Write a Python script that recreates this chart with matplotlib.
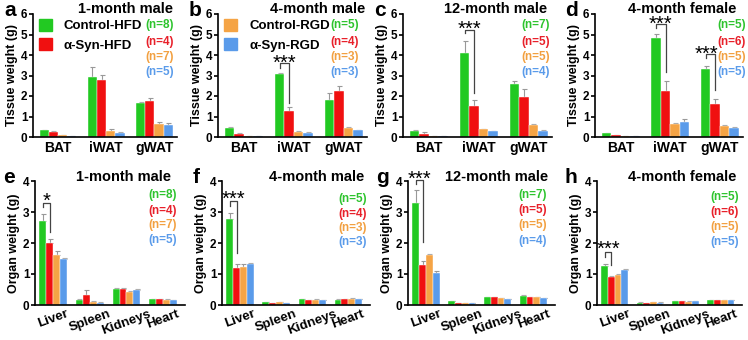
import numpy as np
import matplotlib
matplotlib.use('Agg')
import matplotlib.pyplot as plt
from matplotlib.patches import Patch
from matplotlib.transforms import offset_copy, ScaledTranslation

plt.rcParams['font.family'] = ['Liberation Sans', 'DejaVu Sans']
plt.rcParams['font.weight'] = 'bold'

colors = ['#22c922', '#f01010', '#f5a445', '#5a9bea']
ncolors = ['#2ec42e', '#e8202a', '#f2a040', '#5a9bea']
legend_names = ['Control-HFD', u'\u03b1-Syn-HFD', 'Control-RGD', u'\u03b1-Syn-RGD']

fat_groups = ['BAT', 'iWAT', 'gWAT']
organ_groups = ['Liver', 'Spleen', 'Kidneys', 'Heart']

titles = ['1-month male', '4-month male', '12-month male', '4-month female']
letters_top = ['a', 'b', 'c', 'd']
letters_bot = ['e', 'f', 'g', 'h']
n_counts = [[8, 4, 7, 5], [5, 4, 3, 3], [7, 5, 5, 4], [5, 6, 5, 5]]

# tissue weights: [series][group]
fat_mean = [
    [[0.33, 2.95, 1.65], [0.26, 2.80, 1.75], [0.08, 0.28, 0.65], [0.05, 0.20, 0.57]],
    [[0.42, 3.07, 1.82], [0.17, 1.25, 2.25], [0.05, 0.25, 0.45], [0.04, 0.20, 0.33]],
    [[0.30, 4.12, 2.60], [0.17, 1.50, 1.93], [0.06, 0.37, 0.58], [0.04, 0.28, 0.30]],
    [[0.18, 4.83, 3.32], [0.08, 2.22, 1.63], [0.05, 0.63, 0.55], [0.05, 0.75, 0.43]],
]
fat_err = [
    [[0.03, 0.45, 0.07], [0.02, 0.22, 0.15], [0.03, 0.10, 0.10], [0.01, 0.05, 0.13]],
    [[0.07, 0.07, 0.35], [0.03, 0.22, 0.25], [0.01, 0.03, 0.05], [0.01, 0.02, 0.03]],
    [[0.03, 0.58, 0.15], [0.05, 0.30, 0.40], [0.01, 0.03, 0.07], [0.01, 0.03, 0.03]],
    [[0.03, 0.20, 0.15], [0.02, 0.53, 0.23], [0.01, 0.03, 0.03], [0.01, 0.15, 0.08]],
]
# organ weights: [series][group]
org_mean = [
    [[2.72, 0.15, 0.53, 0.18], [2.00, 0.32, 0.52, 0.18], [1.60, 0.10, 0.42, 0.17], [1.47, 0.08, 0.50, 0.16]],
    [[2.78, 0.10, 0.18, 0.17], [1.20, 0.07, 0.16, 0.18], [1.23, 0.09, 0.17, 0.19], [1.32, 0.06, 0.15, 0.18]],
    [[3.30, 0.12, 0.25, 0.30], [1.30, 0.06, 0.25, 0.26], [1.60, 0.07, 0.22, 0.26], [1.03, 0.07, 0.18, 0.22]],
    [[1.25, 0.08, 0.12, 0.15], [0.90, 0.07, 0.12, 0.15], [0.98, 0.09, 0.11, 0.15], [1.12, 0.08, 0.12, 0.15]],
]
org_err = [
    [[0.20, 0.03, 0.02, 0.01], [0.13, 0.17, 0.03, 0.01], [0.15, 0.02, 0.03, 0.01], [0.05, 0.01, 0.02, 0.01]],
    [[0.20, 0.01, 0.02, 0.01], [0.13, 0.01, 0.01, 0.01], [0.08, 0.01, 0.01, 0.02], [0.05, 0.01, 0.01, 0.01]],
    [[0.42, 0.02, 0.02, 0.02], [0.12, 0.01, 0.01, 0.01], [0.05, 0.01, 0.01, 0.01], [0.07, 0.01, 0.02, 0.01]],
    [[0.07, 0.01, 0.01, 0.01], [0.03, 0.01, 0.01, 0.01], [0.03, 0.01, 0.01, 0.01], [0.04, 0.01, 0.01, 0.01]],
]

# significance: (panel, group, bracket y, left leg end, right leg end, star centre y, label)
sig_top = [(1, 1, 3.60, 3.37, 1.66, 3.88, '***'),
           (2, 1, 5.20, 5.05, 2.15, 5.50, '***'),
           (3, 1, 5.52, 5.30, 3.17, 5.76, '***'),
           (3, 2, 4.05, 3.85, 2.30, 4.30, '***')]
sig_bot = [(0, 0, 3.29, 3.16, 2.35, 3.52, '*'),
           (1, 0, 3.35, 3.20, 1.68, 3.60, '***'),
           (2, 0, 4.03, 3.90, 2.03, 4.22, '***'),
           (3, 0, 1.71, 1.55, 1.29, 1.96, '***')]

W, H = 748, 340
fig = plt.figure(figsize=(W / 100, H / 100), dpi=100)

def px_axes(x0, x1, y0, y1):
    return fig.add_axes([x0 / W, 1 - y1 / H, (x1 - x0) / W, (y1 - y0) / H])

top_boxes = [(33, 177), (218, 367), (403, 552), (595, 743)]
bot_boxes = [(35, 185), (222, 370), (408, 555), (597, 742)]
n_x_top = [0.88, 0.85, 0.89, 0.925]
n_x_bot = [0.85, 0.88, 0.85, 0.88]
title_x_top = [0.64, 0.67, 0.62, 0.59]
title_x_bot = [0.59, 0.64, 0.60, 0.59]

bw = 0.19
star_fs = 14.5

def draw_bars(ax, means, errs, ngroups):
    x = np.arange(ngroups)
    for s in range(4):
        xs = x + (s - 1.5) * bw
        ax.bar(xs, means[s], bw, color=colors[s], edgecolor='white', linewidth=0.3, zorder=2)
        ax.errorbar(xs, means[s], yerr=[np.zeros(ngroups), errs[s]], fmt='none',
                    ecolor='#999999', elinewidth=0.8, capsize=1.8, capthick=0.8, zorder=1)

def style(ax):
    for sp in ['top', 'right']:
        ax.spines[sp].set_visible(False)
    ax.spines['left'].set_linewidth(1.2)
    ax.spines['bottom'].set_linewidth(1.2)
    ax.tick_params(axis='y', length=3, width=1.2, labelsize=8.5, pad=1)
    ax.tick_params(axis='x', length=0, pad=3)
    for lab in ax.get_yticklabels():
        lab.set_fontweight('bold')

def bracket(ax, g, yb, yl, yr, ys, label, dx=0):
    xl = g - 1.5 * bw
    xr = g - 0.5 * bw
    ax.plot([xl, xl, xr, xr], [yl, yb, yb, yr], color='#444444', lw=0.9, clip_on=False, zorder=3)
    # asterisk glyph sits high, shift baseline down so glyph centre lands on ys
    tr = offset_copy(ax.transData, fig=fig, x=dx, y=-0.55 * star_fs * 100 / 72, units='dots')
    ax.text((xl + xr) / 2, ys, label, ha='center', va='baseline', fontsize=star_fs,
            fontweight='normal', clip_on=False, transform=tr)

for i in range(4):
    x0, x1 = top_boxes[i]
    ax = px_axes(x0, x1, 14, 137)
    draw_bars(ax, fat_mean[i], fat_err[i], 3)
    ax.set_xlim(-0.52, 2.47)
    ax.set_ylim(0, 6)
    ax.set_yticks(range(7))
    ax.set_xticks(range(3))
    ax.set_xticklabels(fat_groups, fontsize=10, fontweight='bold')
    ax.set_ylabel('Tissue weight (g)', fontsize=9, fontweight='bold', labelpad=2)
    style(ax)
    ax.text(title_x_top[i], 1.01, titles[i], transform=ax.transAxes, ha='center', va='baseline',
            fontsize=10.5, fontweight='bold')
    fig.text((x0 - 23) / W, 1 - 16 / H, letters_top[i], fontsize=15, fontweight='bold',
             ha='center', va='baseline')
    for k, yy in enumerate([0.91, 0.775, 0.65, 0.53]):
        ax.text(n_x_top[i], yy, '(n=%d)' % n_counts[i][k], transform=ax.transAxes,
                ha='center', va='center', color=ncolors[k], fontsize=8.5, fontweight='bold')
    for p, g, yb, yl, yr, ys, lab in sig_top:
        if p == i:
            bracket(ax, g, yb, yl, yr, ys, lab, dx=-4 if g == 2 else 0)
    if i < 2:
        hs = [Patch(color=colors[2 * i + k]) for k in range(2)]
        ax.legend(hs, legend_names[2 * i:2 * i + 2], loc='upper left', bbox_to_anchor=(0.04, 0.96),
                  frameon=False, fontsize=9.5, handlelength=1.0, handleheight=1.0,
                  handletextpad=0.9, labelspacing=0.45, borderpad=0, borderaxespad=0)

shift = ScaledTranslation(-5 / 100, 0, fig.dpi_scale_trans)
for i in range(4):
    x0, x1 = bot_boxes[i]
    ax = px_axes(x0, x1, 181, 305)
    draw_bars(ax, org_mean[i], org_err[i], 4)
    ax.set_xlim(-0.5, 3.6)
    ax.set_ylim(0, 4)
    ax.set_yticks(range(5))
    ax.set_xticks(range(4))
    ax.set_xticklabels(organ_groups, fontsize=9.5, fontweight='bold', rotation=20,
                       ha='center')
    for lab in ax.get_xticklabels():
        lab.set_transform(lab.get_transform() + shift)
    ax.set_ylabel('Organ weight (g)', fontsize=9, fontweight='bold', labelpad=2)
    style(ax)
    ax.tick_params(axis='x', pad=2)
    ax.text(title_x_bot[i], 1.0, titles[i], transform=ax.transAxes, ha='center', va='baseline',
            fontsize=10.5, fontweight='bold')
    fig.text((x0 - 26) / W, 1 - 183 / H, letters_bot[i], fontsize=15, fontweight='bold',
             ha='center', va='baseline')
    nys = [[0.887, 0.758, 0.645, 0.524], [0.855, 0.73, 0.62, 0.51],
           [0.887, 0.766, 0.645, 0.516], [0.87, 0.75, 0.63, 0.51]][i]
    for k, yy in enumerate(nys):
        ax.text(n_x_bot[i], yy, '(n=%d)' % n_counts[i][k], transform=ax.transAxes,
                ha='center', va='center', color=ncolors[k], fontsize=8.5, fontweight='bold')
    for p, g, yb, yl, yr, ys, lab in sig_bot:
        if p == i:
            bracket(ax, g, yb, yl, yr, ys, lab)

fig.savefig('out.png', dpi=100)
